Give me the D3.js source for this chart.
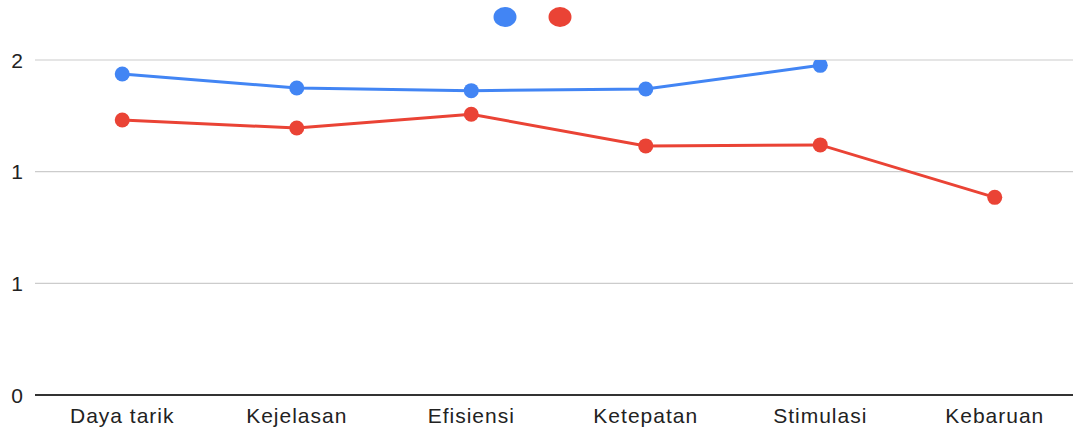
<!DOCTYPE html>
<html><head><meta charset="utf-8">
<script src="https://cdn.jsdelivr.net/npm/d3@7"></script>
<style>body{margin:0;background:#fff}svg{display:block;font-family:"Liberation Sans",Arial,sans-serif}</style>
</head><body>
<svg id="c" width="1073" height="429"></svg>
<script>
const categories = ["Daya tarik","Kejelasan","Efisiensi","Ketepatan","Stimulasi","Kebaruan"];
const seriesA = [1.916, 1.833, 1.817, 1.827, 1.968, null];
const seriesB = [1.642, 1.594, 1.676, 1.487, 1.493, 1.180];
const tickValues = [0, 2/3, 4/3, 2];
const tickLabels = ["0","1","1","2"];
const colors = ["#4285F4","#EA4335"];

(function(){
const svg = d3.select("#c");
const pL = 35, pR = 1082, pT = 60, pB = 395;
const x = d3.scalePoint().domain(categories).range([pL, pR]).padding(0.5);
const y = d3.scaleLinear().domain([0, 2]).range([pB, pT]);

svg.append("defs").append("clipPath").attr("id","clip")
  .append("rect").attr("x", 0).attr("y", pT).attr("width", 1073).attr("height", pB - pT + 20);

svg.append("g").selectAll("line").data(tickValues.slice(1)).join("line")
  .attr("x1", pL).attr("x2", 1073).attr("y1", d => y(d)).attr("y2", d => y(d))
  .attr("stroke", "#cccccc").attr("stroke-width", 1.2);
svg.append("line").attr("x1", pL).attr("x2", 1073).attr("y1", y(0)).attr("y2", y(0))
  .attr("stroke", "#333").attr("stroke-width", 2);

svg.append("g").selectAll("text").data(tickValues).join("text")
  .attr("x", 23).attr("y", d => y(d)).attr("dy", "0.36em").attr("text-anchor", "end")
  .attr("font-size", 21).attr("fill", "#222").text((d, i) => tickLabels[i]);

svg.append("g").selectAll("text").data(categories).join("text")
  .attr("x", d => x(d)).attr("y", 423).attr("text-anchor", "middle")
  .attr("font-size", 21).attr("letter-spacing", "1px").attr("fill", "#222").text(d => d);

const plot = svg.append("g").attr("clip-path", "url(#clip)");
[seriesA, seriesB].forEach((s, si) => {
  const pts = categories.map((c, i) => ({c, v: s[i]})).filter(p => p.v != null);
  plot.append("path").datum(pts)
    .attr("fill", "none").attr("stroke", colors[si]).attr("stroke-width", 3)
    .attr("d", d3.line().x(p => x(p.c)).y(p => y(p.v)));
  plot.append("g").selectAll("circle").data(pts).join("circle")
    .attr("cx", p => x(p.c)).attr("cy", p => y(p.v)).attr("r", 7.5).attr("fill", colors[si]);
});

svg.append("g").selectAll("ellipse").data(colors).join("ellipse")
  .attr("cx", (d, i) => 505 + i * 55).attr("cy", 17).attr("rx", 11.5).attr("ry", 10).attr("fill", d => d);
})();
</script>
</body></html>
